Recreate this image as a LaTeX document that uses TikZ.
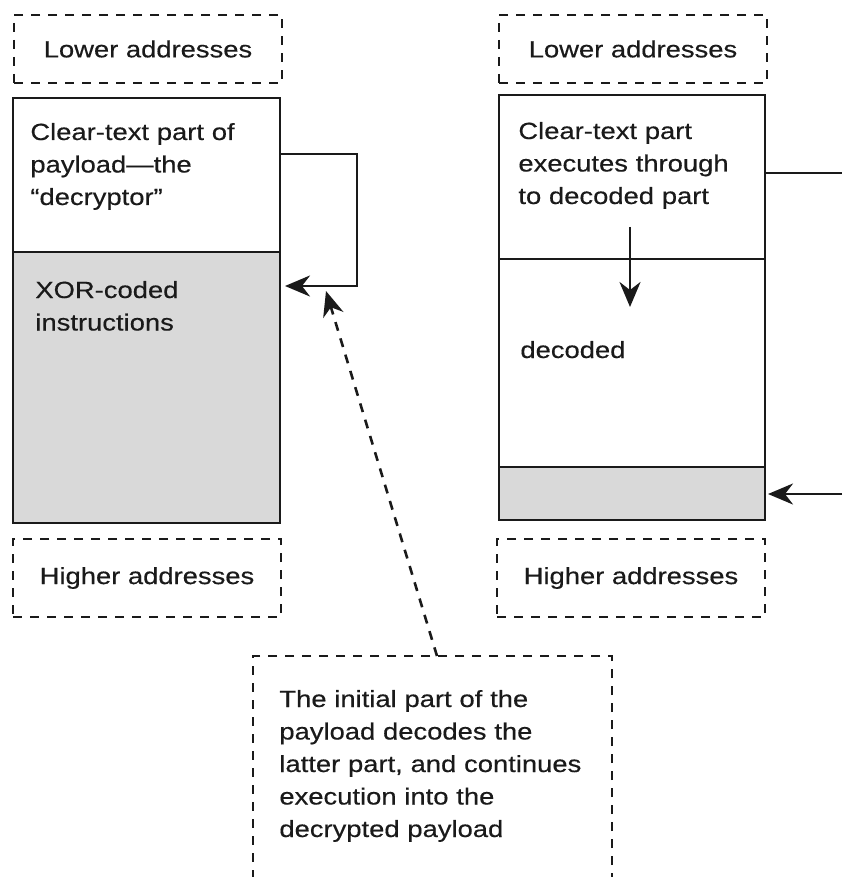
\documentclass[tikz,border=0pt]{standalone}
\usepackage{fontspec}
\setmainfont{Liberation Sans}[FakeStretch=1.17, FakeBold=0.4]
\usepackage{xcolor}
\usetikzlibrary{arrows.meta,positioning}
\definecolor{ink}{HTML}{1A1A1A}
\definecolor{coded}{HTML}{D9D9D9}

\begin{document}
\begin{tikzpicture}[x=0.5pt, y=-0.5pt,
  font=\fontsize{11.7}{16.25}\selectfont,
  every node/.style={text=ink},
  seg/.style={draw=ink, line width=1.4pt, fill=white, minimum width=133.5pt, inner sep=0pt, outer sep=0pt},
  addr/.style={draw=ink, line width=1.3pt, dash pattern=on 4.5pt off 4pt, minimum width=134pt, inner sep=0pt, outer sep=0pt},
  txt/.style={anchor=base west, inner sep=0pt, align=left, text width=#1},
  txt/.default=130pt,
  flow/.style={-{Stealth[length=12.5pt, width=10.5pt, inset=4pt]}, line width=1.4pt, draw=ink},
  plain/.style={line width=1.4pt, draw=ink},
  hint/.style={-{Stealth[length=12.5pt, width=10.5pt, inset=4pt]}, line width=1.3pt, draw=ink, dash pattern=on 4.5pt off 4pt}
]
\useasboundingbox (0,0) rectangle (842,877);

% left column: coded payload
\node[addr, minimum height=34pt] (lowL) at (148,49) {Lower addresses};
\node[seg, minimum height=77pt, anchor=north west] (clearL) at (13,98) {};
\node[seg, fill=coded, minimum height=135.5pt, below=0pt of clearL] (codedL) {};
\node[addr, minimum height=39pt] (highL) at (147,578) {Higher addresses};

% right column: after decoding
\node[addr, minimum height=34pt] (lowR) at (633,49) {Lower addresses};
\node[seg, minimum width=133pt, minimum height=82pt, anchor=north west] (clearR) at (499,95) {};
\node[seg, minimum width=133pt, minimum height=104pt, below=0pt of clearR] (decR) {};
\node[seg, minimum width=133pt, fill=coded, minimum height=26.5pt, below=0pt of decR] (tailR) {};
\node[addr, minimum height=39pt] (highR) at (631,578) {Higher addresses};

% note
\node[addr, minimum width=179.5pt, minimum height=112pt] (note) at (432.5,768) {};

% texts
\node[txt] (clearLtxt) at (30,140) {Clear-text part of\\payload—the\\“decryptor”};
\node[txt] (codedLtxt) at (35,298) {XOR-coded\\instructions};
\node[txt] (clearRtxt) at (518,139) {Clear-text part\\executes through\\to decoded part};
\node[txt] (decodedtxt) at (520,358) {decoded};
\node[txt=165pt] (notetxt) at (279,707) {The initial part of the\\payload decodes the\\latter part, and continues\\execution into the\\decrypted payload};

% connectors
\coordinate (loopTop) at (357,154);
\coordinate (loopBot) at (357,286);
\draw[flow, shorten >=2.5pt] (clearL.east |- loopTop) -- (loopTop) -- (loopBot) -- (codedL.east |- loopBot);

\coordinate (hintTip) at (326,291);
\draw[hint] ([xshift=2.25pt]note.north) -- (hintTip);

\coordinate (stepTop) at (630,227);
\coordinate (stepTip) at (630,307);
\draw[flow] (stepTop) -- (stepTip);

\coordinate (exitR) at (842,173);
\draw[plain] (clearR.east |- exitR) -- (exitR);
\coordinate (entryR) at (842,494);
\draw[flow, shorten >=1.5pt] (entryR) -- (tailR.east |- entryR);
\end{tikzpicture}
\end{document}
